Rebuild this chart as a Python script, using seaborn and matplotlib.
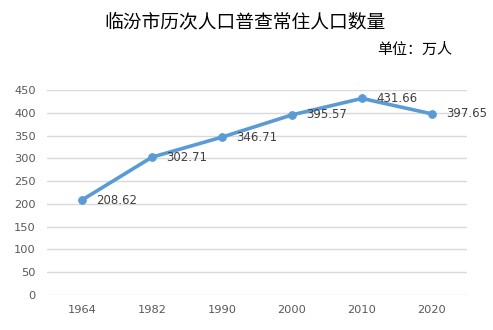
import matplotlib
matplotlib.use("Agg")
import matplotlib.pyplot as plt
import seaborn as sns
import pandas as pd

years = ["1964", "1982", "1990", "2000", "2010", "2020"]
population = [208.62, 302.71, 346.71, 395.57, 431.66, 397.65]
y_ticks = [0, 50, 100, 150, 200, 250, 300, 350, 400, 450]

title = "临汾市历次人口普查常住人口数量"
unit = "单位：万人"

sns.set_theme(style="white")
plt.rcParams["font.family"] = ["DejaVu Sans", "Noto Sans CJK SC"]

df = pd.DataFrame({"year": years, "pop": population})

fig = plt.figure(figsize=(4.93, 3.30), dpi=100)
ax = fig.add_axes([0.0953, 0.106, 0.852, 0.621])

line_color = "#5B9BD5"
sns.lineplot(data=df, x="year", y="pop", ax=ax, color=line_color,
             linewidth=2.6, marker="o", markersize=5.5,
             markeredgecolor=line_color, sort=False)

for i, v in enumerate(population):
    ax.annotate(f"{v:.2f}", (i, v), xytext=(10, 0), textcoords="offset points",
                ha="left", va="center", fontsize=8.5, color="#404040")

ax.set_xlim(-0.5, len(years) - 0.5)
ax.set_ylim(0, 450)
ax.set_yticks(y_ticks)
ax.set_yticklabels([str(t) for t in y_ticks])
ax.grid(axis="y", color="#D9D9D9", linewidth=1.0)
ax.set_axisbelow(True)
for s in ax.spines.values():
    s.set_visible(False)
ax.tick_params(axis="both", length=0, labelsize=8.2, colors="#595959", pad=7)
ax.tick_params(axis="y", pad=8)
ax.set_xlabel("")
ax.set_ylabel("")

fig.text(0.497, 0.933, title, ha="center", va="center", fontsize=13.5,
         family=["Noto Sans CJK SC"], color="#000000")
fig.text(0.917, 0.848, unit, ha="right", va="center", fontsize=10.8,
         family=["Noto Sans CJK SC"], color="#000000")

fig.savefig("out.png", dpi=100)
